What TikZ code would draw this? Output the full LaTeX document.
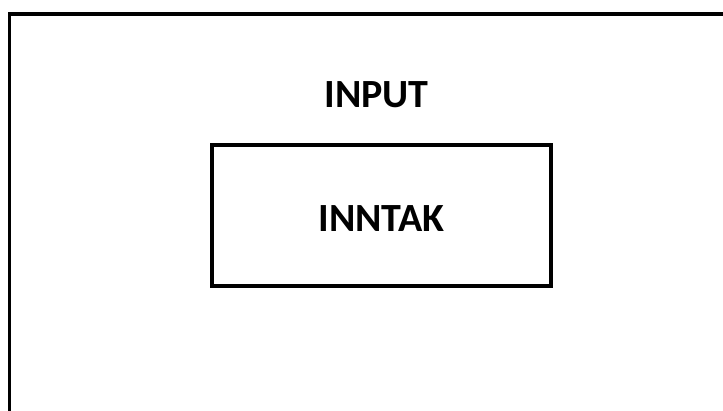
\documentclass[tikz,border=0pt]{standalone}
\usepackage{fontspec}
\setmainfont{Carlito}
\usetikzlibrary{positioning}

\begin{document}
\begin{tikzpicture}[
    x=1pt, y=-1pt,
    frame/.style={draw=black, line width=3.5pt},
    block/.style={rectangle, draw=black, line width=4pt,
                  minimum width=339pt, minimum height=141pt,
                  inner sep=0pt, text height=32.5pt,
                  font=\bfseries\fontsize{40}{48}\selectfont},
    heading/.style={inner sep=0pt, font=\bfseries\fontsize{40}{48}\selectfont}
]

\useasboundingbox (0,0) rectangle (723,410);
\clip (0,0) rectangle (723,410);

% outer frame, runs past the right and bottom edges
\draw[frame] (9.5,14) rectangle (760,440);

\node[block] (inntak) at (381.5,215.5) {INNTAK};
\node[heading, above=35pt of inntak, xshift=-5pt] (input) {INPUT};

\end{tikzpicture}
\end{document}
